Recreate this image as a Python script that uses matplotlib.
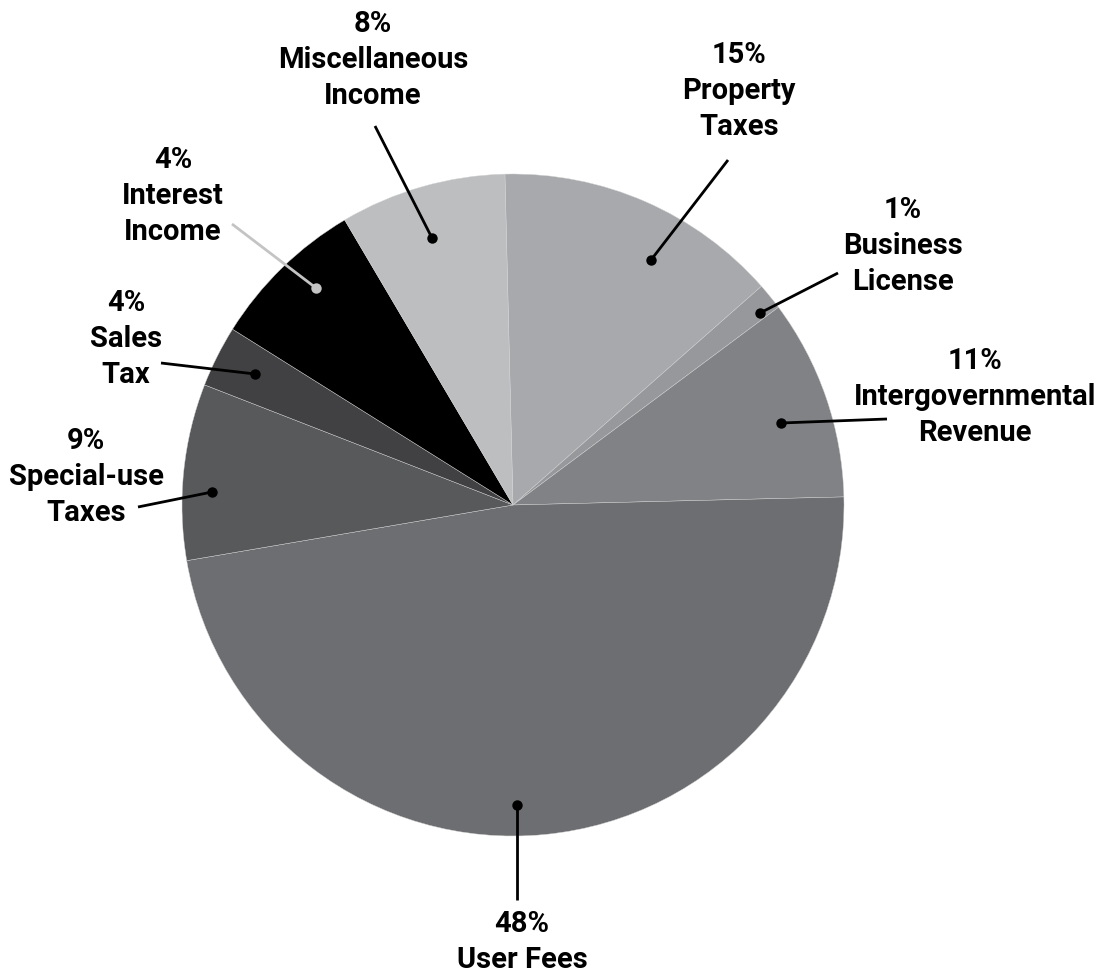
"""
Revenue sources pie chart
"""
import matplotlib
matplotlib.use('Agg')
import matplotlib.pyplot as plt
import matplotlib as mpl

mpl.rcParams['font.family'] = ['Roboto', 'DejaVu Sans']
mpl.rcParams['font.weight'] = 'bold'

#==============================================================================
# Data (clockwise from the top)
categories = ['Property\nTaxes', 'Business\nLicense', 'Intergovernmental\nRevenue',
              'User Fees', 'Special-use\nTaxes', 'Sales\nTax', 'Interest\nIncome',
              'Miscellaneous\nIncome']
pct_labels = ['15%', '1%', '11%', '48%', '9%', '4%', '4%', '8%']
# slice sizes as drawn in the picture
slice_sizes = [13.9, 1.3, 9.8, 47.7, 8.6, 3.0, 7.6, 8.1]
colors = ['#a7a9ac', '#97989b', '#808285', '#6d6e71', '#58595b', '#414042',
          '#000000', '#bcbec0']

W, H = 1104, 977

# layout in pixels (from the top-left corner)
center = (513, 505)
radius = 331
# centre of each label block, leader start (text side) and leader end (dot)
label_xy = [(739, 91), (903, 246), (975, 397), (522, 942), (86, 477),
            (126, 339), (173, 196), (373, 60)]
leader_from = [(728, 160), (838, 273), (887, 419), (517, 900), (138, 507),
               (161, 363), (232, 224), (375, 126)]
leader_to = [(651, 260), (760, 313), (781, 423), (517, 805), (212, 492),
             (255, 374), (316, 288), (432, 238)]
leader_colors = ['black'] * 6 + ['#c4c4c4', 'black']

#==============================================================================

fig = plt.figure(figsize=(W / 100, H / 100), dpi=100)
ax = fig.add_axes([0, 0, 1, 1])

ax.pie(slice_sizes, colors=colors, startangle=91.4, counterclock=False,
       center=(center[0], H - center[1]), radius=radius,
       wedgeprops=dict(edgecolor='#d4d4d4', linewidth=0.3))

for i in range(len(categories)):
    (x0, y0), (x1, y1) = leader_from[i], leader_to[i]
    ax.plot([x0, x1], [H - y0, H - y1], color=leader_colors[i], lw=2,
            solid_capstyle='butt')
    ax.plot(x1, H - y1, 'o', color=leader_colors[i], markersize=7.5,
            markeredgewidth=0)
    lx, ly = label_xy[i]
    ax.text(lx, H - ly, pct_labels[i] + '\n' + categories[i], ha='center',
            va='center', multialignment='center', fontsize=21,
            fontweight='bold', linespacing=1.38, color='black')

ax.set_xlim(0, W)
ax.set_ylim(0, H)
ax.set_aspect('equal')
ax.axis('off')

plt.savefig('out.png', dpi=100)
